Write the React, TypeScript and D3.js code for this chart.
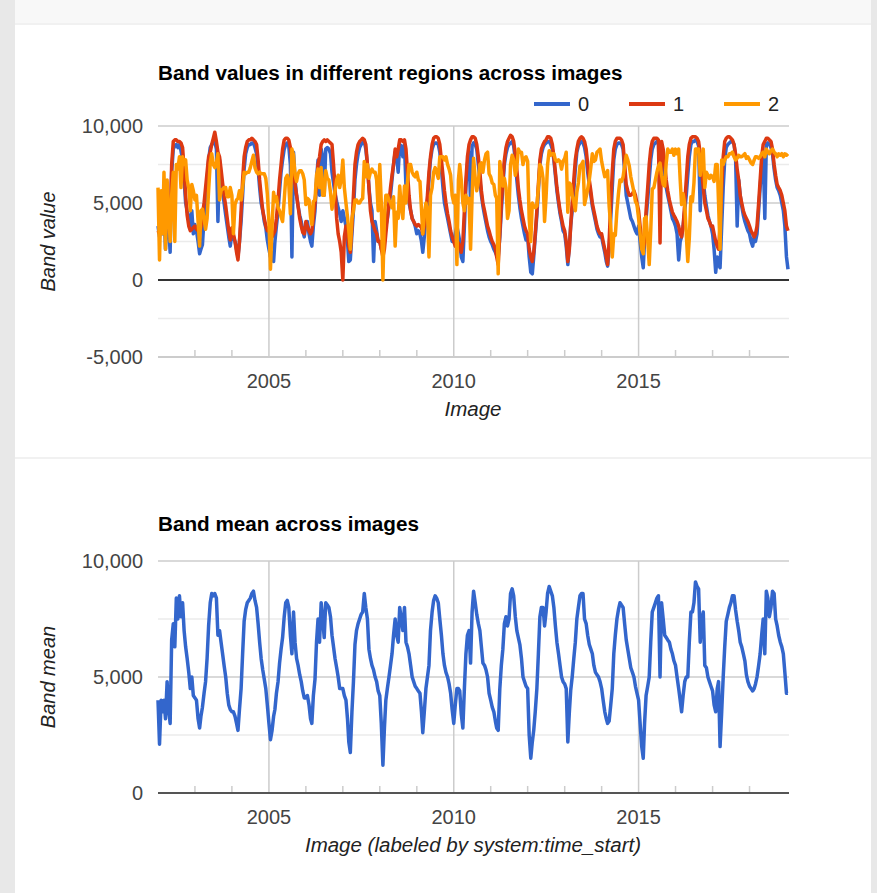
import * as d3 from "d3";
import { useEffect, useRef } from "react";

// half-monthly samples, 2002-01-01 .. 2019-01-16 (24 per year)
const startYear = 2002;

const band0 = [
  3500, 2800, 4000, 3000, 4500, 2000, 5000, 3500, 1800, 7000, 8500, 8700, 8800, 8600, 8800, 8400, 7800, 6500, 5000, 4500, 4000, 3500, 4500, 3000,
  3600, 3200, 2500, 1700, 2000, 2300, 4000, 5200, 6500, 7800, 8600, 8800, 8900, 9000, 8500, 3800, 7800, 6500, 5800, 5000, 4200, 3500, 2800, 2200,
  3000, 2800, 2500, 2000, 1500, 2500, 3800, 5500, 7200, 8200, 8600, 8800, 8800, 8900, 8900, 8600, 8200, 7200, 6000, 5000, 4500, 3800, 3400, 2600,
  2000, 1500, 1800, 1200, 2500, 3500, 4500, 5800, 7000, 7800, 8500, 8800, 8900, 8700, 7500, 1500, 8300, 6500, 5500, 4800, 4200, 3800, 3200, 2800,
  3600, 3800, 3000, 2500, 2200, 3500, 4500, 6500, 7800, 5500, 8500, 8000, 5500, 8500, 8600, 8500, 8200, 7000, 6300, 5600, 5100, 4700, 4300, 3800,
  4500, 4000, 3500, 2500, 1200, 1300, 3000, 4500, 6500, 7500, 8200, 8600, 8800, 8900, 9000, 8500, 7500, 6000, 5000, 4500, 1200, 3800, 3200, 2500,
  2500, 2000, 2000, 2500, 3500, 4000, 4800, 5500, 6500, 7500, 8300, 8000, 7000, 8800, 8700, 8000, 8800, 6000, 5500, 5000, 4500, 4000, 3800, 3500,
  3000, 3200, 3000, 2500, 1800, 2800, 4000, 5000, 6500, 7800, 8500, 8800, 8900, 8900, 8800, 8300, 7200, 6000, 5000, 4500, 4000, 3500, 3000, 2500,
  2500, 3000, 3500, 3000, 2500, 1500, 1200, 3500, 6000, 7500, 8300, 5000, 8700, 8900, 8800, 8500, 7500, 6500, 5500, 4800, 4200, 3700, 3200, 2800,
  2500, 2300, 2000, 1800, 1600, 1500, 2800, 4500, 6000, 7500, 8200, 8600, 8800, 8900, 9000, 8700, 7800, 6500, 5500, 4700, 4000, 3500, 3000, 2600,
  2800, 1500, 500, 400, 1500, 2800, 4200, 5800, 7500, 8200, 8600, 8800, 8900, 9000, 9000, 8800, 8500, 7800, 6800, 5800, 5000, 4300, 3800, 3200,
  3000, 2200, 1000, 2200, 3500, 4500, 5800, 7200, 8300, 8700, 8900, 9000, 8900, 8600, 8000, 7000, 6200, 5500, 4800, 4300, 3800, 3300, 3000, 2800,
  2800, 2300, 1800, 1200, 900, 2000, 4000, 6000, 7800, 8500, 8800, 8900, 8900, 8800, 8500, 7000, 5500, 5000, 4500, 4000, 3800, 3500, 3200, 3000,
  3500, 2500, 1500, 800, 2500, 4000, 5200, 6500, 7800, 8500, 8800, 8900, 9000, 9000, 5000, 8800, 7800, 6800, 6000, 5500, 5000, 4500, 4000, 3800,
  3500, 3000, 1300, 2500, 2800, 3500, 4500, 5500, 6800, 8000, 8800, 9000, 9000, 9100, 9000, 8700, 4500, 7500, 6500, 5500, 4800, 4200, 3800, 3500,
  3000, 2000, 500, 1500, 1000, 800, 3500, 6000, 7800, 8600, 8800, 8900, 9000, 9000, 8800, 8000, 3500, 6500, 5500, 4800, 4200, 3800, 3500, 3200,
  3000, 2500, 2200, 2800, 2500, 3000, 4500, 6000, 7500, 8300, 4000, 8800, 8900, 8800, 8600, 8200, 7200, 6500, 6000, 5800, 5500, 5000, 4500, 3500,
  1500, 700,
];

const band1 = [
  3200, 3000, 3800, 3500, 4200, 3000, 4500, 3800, 3500, 7500, 9000, 9100, 9100, 9000, 9000, 8900, 8600, 7200, 5500, 4200, 3500, 3200, 3300, 3400,
  3500, 3300, 3200, 3000, 3400, 4200, 5000, 6000, 7000, 8000, 8300, 8800, 9200, 9600, 9000, 8300, 8000, 7200, 6300, 5500, 4800, 4000, 3200, 2600,
  3400, 3000, 2500, 1800, 1300, 2500, 4500, 6500, 8000, 8600, 9000, 9100, 9100, 9200, 9100, 9000, 8800, 7800, 6500, 5500, 4500, 4000, 3500, 3200,
  3200, 3000, 2800, 3000, 3200, 4000, 5200, 6500, 7500, 8500, 9100, 9200, 9200, 9100, 8600, 7800, 7000, 6200, 5500, 4800, 4000, 3500, 3100, 3000,
  3800, 3500, 3200, 3000, 3200, 4000, 5000, 6200, 7500, 8000, 8800, 9000, 9100, 9000, 9100, 9000, 8900, 8800, 7500, 6000, 4000, 3000, 2500, 1800,
  0, 2800, 3500, 3000, 2200, 1800, 3500, 5500, 7500, 8300, 8800, 9000, 9100, 9200, 9100, 8800, 7500, 6000, 4500, 3800, 3500, 3200, 3000, 2500,
  2500, 2000, 1500, 2000, 3000, 4000, 5000, 6000, 6800, 7500, 8500, 8000, 8500, 9100, 9100, 9000, 9100, 8500, 7000, 5500, 4500, 4000, 3800, 3600,
  3500, 3600, 3500, 3400, 3000, 3500, 4500, 5500, 7000, 8000, 8800, 9200, 9300, 9300, 9200, 8800, 7800, 6800, 5800, 5000, 4300, 3800, 3200, 2800,
  2500, 2200, 2500, 2400, 2200, 1800, 2500, 4500, 6500, 8000, 8800, 9100, 9300, 9300, 9200, 8800, 8000, 7000, 5800, 5000, 4500, 4000, 3500, 3200,
  2800, 2500, 2300, 2000, 1500, 1000, 3000, 5000, 6500, 7800, 8600, 9000, 9200, 9400, 9300, 9000, 8200, 7200, 6000, 5200, 4500, 4000, 3500, 3200,
  3000, 2000, 1500, 1200, 1800, 3000, 4500, 6200, 7800, 8500, 8800, 9000, 9100, 9300, 9300, 9200, 8800, 8000, 7000, 6000, 5200, 4500, 4000, 3500,
  3200, 2500, 1200, 2000, 3500, 5000, 6500, 7800, 8500, 9000, 9200, 9300, 9200, 9000, 8500, 7500, 6500, 5800, 5000, 4500, 4000, 3500, 3200, 3000,
  3000, 2500, 2000, 1500, 1000, 2500, 5000, 7000, 8500, 9000, 9200, 9200, 9200, 9100, 8800, 7500, 6200, 5800, 5500, 5500, 5600, 5800, 5500, 5000,
  4500, 3500, 2500, 2000, 2500, 4500, 6000, 7500, 8500, 9000, 9200, 9200, 9200, 9100, 2400, 9000, 8500, 7500, 6500, 5800, 5200, 4800, 4400, 4200,
  4000, 3800, 3500, 3000, 2800, 3500, 5000, 6500, 8000, 8800, 9200, 9300, 9300, 9300, 9200, 9000, 8200, 7000, 6000, 5000, 4500, 4000, 3800, 3500,
  3500, 3000, 2500, 2200, 2000, 3500, 6000, 8000, 9000, 9200, 9300, 9300, 9200, 9100, 8800, 8200, 7200, 6500, 5500, 5000, 4500, 4200, 4000, 3800,
  3500, 3200, 3000, 2800, 3000, 3500, 5000, 6500, 8000, 8800, 9000, 9200, 9200, 9100, 9000, 8500, 7500, 6800, 6200, 6000, 5800, 5500, 5000, 4500,
  3500, 3200,
];

const band2 = [
  6000, 1300, 5800, 3000, 7000, 2000, 6500, 4500, 2500, 5500, 7000, 2500, 7500, 7200, 8000, 6000, 8000, 7500, 7800, 6500, 6000, 4500, 6200, 5800,
  5200, 5500, 3800, 2200, 4500, 4600, 4000, 3300, 4000, 5800, 7600, 8200, 7500, 7300, 7600, 8200, 5200, 5800, 5900, 6000, 6000, 5400, 5400, 6000,
  5500, 3000, 4900, 5200, 5300, 5800, 5200, 6000, 7000, 6900, 7000, 7000, 7300, 7700, 8100, 7300, 7000, 6900, 7000, 6900, 6900, 6900, 6600, 5600,
  3800, 700, 3500, 5700, 5100, 5400, 4700, 4500, 4100, 3800, 5200, 6600, 6800, 6200, 4300, 8500, 8100, 6800, 6400, 6900, 7100, 7100, 6900, 6500,
  4900, 5300, 5200, 4100, 3600, 5100, 5200, 6800, 7200, 6000, 7300, 5500, 5500, 7100, 6600, 6500, 5700, 4600, 5100, 5800, 6500, 6800, 6000, 6500,
  7800, 6000, 5000, 4100, 3200, 2000, 4000, 4500, 5200, 5200, 5000, 5000, 5200, 5300, 7700, 6700, 7500, 6600, 7000, 7200, 7000, 7000, 6500, 4500,
  7500, 5000, 0, 4000, 5500, 5500, 5200, 5000, 4700, 5400, 2200, 4400, 4000, 6100, 4700, 4000, 6100, 5000, 6400, 7500, 7500, 7000, 6800, 6700,
  7000, 6500, 6400, 4600, 3000, 4200, 5000, 4500, 1500, 5500, 6000, 7000, 7300, 7000, 6600, 8000, 8000, 8000, 7800, 8000, 7500, 7200, 6800, 5500,
  5000, 5500, 1000, 6500, 7500, 6500, 5000, 4500, 5500, 5000, 5300, 2000, 5400, 7900, 6600, 5800, 6400, 7500, 7600, 7000, 7800, 8200, 8300, 6900,
  6700, 6300, 6200, 5500, 5300, 400, 7700, 7000, 6100, 6600, 6000, 4000, 4500, 7500, 8100, 7800, 6800, 7300, 8500, 8300, 8300, 7500, 7900, 8000,
  7700, 4000, 2500, 5000, 4800, 4700, 4800, 6000, 7500, 7300, 6600, 3800, 5400, 7500, 8400, 8100, 8200, 8200, 7800, 7700, 7800, 7700, 7200, 7700,
  7900, 8300, 4400, 6300, 6200, 5500, 5100, 4500, 5700, 6300, 7400, 7500, 7700, 4900, 5400, 5900, 6500, 7300, 8200, 7700, 7800, 8300, 8400, 8500,
  7700, 7200, 6700, 6900, 7100, 4800, 3500, 1500, 3000, 2900, 4500, 5600, 6500, 6400, 6700, 7400, 8100, 7800, 7400, 6700, 6200, 5700, 5100, 4900,
  4000, 3000, 2000, 1700, 4000, 4100, 2600, 1000, 3200, 5900, 6000, 6500, 7000, 7400, 7600, 6800, 6200, 6100, 7600, 8500, 8300, 8300, 8500, 8100,
  8500, 8200, 8500, 6500, 4900, 5600, 4900, 3000, 1200, 2700, 5400, 5100, 6300, 8500, 8500, 8500, 6800, 8000, 8500, 6000, 7000, 6800, 6600, 6800,
  6700, 6400, 7500, 7500, 5000, 2000, 7800, 7500, 7800, 8000, 8000, 8200, 8200, 8300, 8000, 7800, 7900, 8100, 8000, 8000, 8100, 8200, 7900, 8000,
  7800, 7600, 7500, 7800, 8000, 8000, 7900, 8000, 8200, 8300, 8000, 8500, 8300, 8200, 8400, 8500, 8300, 8200, 8000, 8200, 8100, 8200, 8000, 8200,
  8100, 8200,
];

const bandMean = [
  4000, 2100, 4000, 3500, 4000, 3200, 4800, 3600, 3000, 6600, 7300, 6300, 8400, 7500, 8500, 7600, 8200, 7000, 6300, 5800, 5200, 4500, 5000, 4200,
  4100, 4000, 3200, 2800, 3300, 3700, 4300, 4800, 5800, 7200, 8200, 8600, 8500, 8600, 8400, 6800, 7000, 6500, 6000, 5500, 5000, 4300, 3800, 3600,
  3500, 3500, 3300, 3000, 2700, 3600, 4500, 6000, 7400, 7900, 8200, 8300, 8400, 8600, 8700, 8300, 8000, 7300, 6500, 5800, 5300, 4900, 4500, 3800,
  3000, 2300, 2700, 3300, 3600, 4300, 4800, 5600, 6200, 6700, 7600, 8200, 8300, 8000, 6800, 6000, 7800, 6500, 5800, 5500, 5100, 4800, 4400, 4100,
  4100, 4200, 3800, 3200, 3000, 4200, 4900, 6500, 7500, 6500, 8200, 7500, 6700, 8200, 8100, 8000, 7600, 6800, 6300, 5800, 5400, 5000, 4500, 4500,
  4500, 4200, 4000, 3200, 2200, 1750, 3500, 4800, 6400, 7000, 7300, 7500, 7700, 7800, 8600, 8000, 7500, 6200, 5800, 5500, 5300, 5000, 4800, 4400,
  4200, 3000, 1200, 2800, 4000, 4500, 5000, 5500, 6000, 6800, 7500, 6800, 6500, 8000, 7500, 7000, 8000, 6500, 6300, 6000, 5500, 5000, 4800, 4600,
  4500, 4400, 4300, 3500, 2600, 3500, 4500, 5000, 5500, 7000, 7800, 8300, 8500, 8400, 8200, 7500, 6800, 6000, 5500, 5200, 5000, 4700, 4300, 3600,
  3000, 3800, 4500, 4500, 4400, 3400, 2800, 4500, 6000, 6800, 7000, 5600, 7800, 8700, 8200, 7700, 7300, 7000, 6300, 5600, 5500, 5300, 5000, 4300,
  4000, 3700, 3500, 3100, 2800, 2700, 4500, 5500, 6200, 7300, 7600, 7200, 7500, 8600, 8800, 8500, 7600, 7000, 6700, 6400, 5800, 5000, 4800, 4600,
  4500, 2500, 1500, 2200, 2700, 3500, 4500, 6000, 7600, 8000, 8000, 7200, 7800, 8600, 8900, 8700, 8500, 8000, 7200, 6500, 6000, 5500, 5000, 4800,
  4700, 4500, 2200, 3500, 4400, 5000, 5800, 6500, 7500, 8000, 8500, 8600, 8600, 7500, 7300, 6800, 6400, 6200, 6000, 5500, 5200, 5100, 5000, 4800,
  4500, 4000, 3500, 3200, 3000, 3100, 3800, 4500, 6000, 6800, 7500, 7900, 8200, 8100, 8000, 7300, 6600, 6200, 5800, 5400, 5200, 5000, 4600, 4300,
  4000, 3000, 2000, 1500, 3000, 4200, 4600, 5000, 6500, 7800, 8000, 8200, 8400, 8500, 5000, 8200, 7500, 6800, 6700, 6600, 6500, 6200, 6000, 5700,
  5500, 5000, 4500, 4000, 3500, 4200, 4800, 5000, 5000, 6500, 7800, 7800, 8200, 9100, 8900, 8800, 6500, 7500, 7800, 5500, 5400, 5000, 4800, 4600,
  4400, 3800, 3500, 4500, 4800, 2000, 3500, 5000, 6300, 7400, 7700, 8000, 8200, 8500, 8500, 7900, 7400, 7000, 6500, 6300, 6000, 5700, 5100, 4800,
  4600, 4500, 4400, 4500, 4700, 5000, 5500, 6000, 6800, 7500, 6000, 8700, 8400, 7600, 8000, 8700, 8600, 7500, 7200, 6800, 6500, 6300, 6000, 5200,
  4300, 4300,
];

const seriesNames = ["0", "1", "2"];
const seriesColors = ["#3366cc", "#dc3912", "#ff9900"];
const labelYears = [2005, 2010, 2015];
const tickYears = d3.range(2003, 2019);

const FONT = "Arial, 'Liberation Sans', sans-serif";
const fmt = d3.formatLocale({ decimal: ".", thousands: ",", grouping: [3], currency: ["$", ""], minus: "-" }).format(",");

function sampleDate(i: number) {
  const k = i % 24;
  return new Date(startYear + Math.floor(i / 24), Math.floor(k / 2), k % 2 ? 16 : 1);
}

const xScale = d3.scaleTime()
  .domain([new Date(2002, 0, 1), new Date(2019, 0, 26)])
  .range([158, 789]);

function drawPanel(g: any, opts: any) {
  const { y, ticks, title, titleY, xTitle, yTitle, series, colors, zeroDark } = opts;
  const [yBottom, yTop] = y.range();
  const left = xScale.range()[0], right = xScale.range()[1];

  // horizontal grid
  g.selectAll(".grid")
    .data(ticks)
    .join("line")
    .attr("x1", left).attr("x2", right)
    .attr("y1", (v: number) => y(v)).attr("y2", (v: number) => y(v))
    .attr("stroke", (v: number) => (v % 5000 === 0 ? "#cccccc" : "#ebebeb"))
    .attr("stroke-width", (v: number) => (v === y.domain()[0] ? 2 : 1.5));

  // vertical grid at labelled years
  g.selectAll(".vgrid")
    .data(labelYears)
    .join("line")
    .attr("x1", (yr: number) => xScale(new Date(yr, 0, 1)))
    .attr("x2", (yr: number) => xScale(new Date(yr, 0, 1)))
    .attr("y1", yTop).attr("y2", yBottom)
    .attr("stroke", "#cccccc").attr("stroke-width", 1.5);

  // minor year ticks
  g.selectAll(".ytick")
    .data(tickYears.filter((yr) => !labelYears.includes(yr)))
    .join("line")
    .attr("x1", (yr: number) => xScale(new Date(yr, 0, 1)))
    .attr("x2", (yr: number) => xScale(new Date(yr, 0, 1)))
    .attr("y1", yBottom - 7).attr("y2", yBottom)
    .attr("stroke", "#cccccc").attr("stroke-width", 1.5);

  // baseline
  g.append("line")
    .attr("x1", left).attr("x2", right)
    .attr("y1", y(0)).attr("y2", y(0))
    .attr("stroke", zeroDark).attr("stroke-width", 2);

  const line = d3.line<number>()
    .x((_, i) => xScale(sampleDate(i)))
    .y((v) => y(v));

  series.forEach((s: number[], i: number) => {
    g.append("path")
      .attr("d", line(s))
      .attr("fill", "none")
      .attr("stroke", colors[i])
      .attr("stroke-width", 3.5)
      .attr("stroke-linejoin", "round");
  });

  // y labels
  g.selectAll(".ylab")
    .data(ticks.filter((v: number) => v % 5000 === 0))
    .join("text")
    .attr("x", 143).attr("y", (v: number) => y(v)).attr("dy", "0.36em")
    .attr("text-anchor", "end")
    .attr("fill", "#444").style("font", `20px ${FONT}`)
    .text((v: number) => fmt(v));

  // x labels
  g.selectAll(".xlab")
    .data(labelYears)
    .join("text")
    .attr("x", (yr: number) => xScale(new Date(yr, 0, 1))).attr("y", yBottom + 31)
    .attr("text-anchor", "middle")
    .attr("fill", "#444").style("font", `20px ${FONT}`)
    .text((yr: number) => String(yr));

  g.append("text")
    .attr("x", left).attr("y", titleY)
    .attr("fill", "#000").style("font", `bold 20.7px ${FONT}`)
    .text(title);

  g.append("text")
    .attr("x", 473).attr("y", yBottom + 59)
    .attr("text-anchor", "middle")
    .attr("fill", "#222").style("font", `italic 20.5px ${FONT}`)
    .text(xTitle);

  const midY = (yTop + yBottom) / 2;
  g.append("text")
    .attr("transform", `translate(55,${midY}) rotate(-90)`)
    .attr("text-anchor", "middle")
    .attr("fill", "#222").style("font", `italic 20px ${FONT}`)
    .text(yTitle);
}

export default function App() {
  const svgRef = useRef<SVGSVGElement>(null);

  useEffect(() => {
    const svg = d3.select(svgRef.current);
    svg.selectAll("*").remove();

    // page / card background
    svg.append("rect").attr("width", 877).attr("height", 893).attr("fill", "#e8e8e8");
    svg.append("rect").attr("x", 15).attr("width", 856).attr("height", 893).attr("fill", "#ffffff");
    svg.append("rect").attr("x", 15).attr("width", 856).attr("height", 23).attr("fill", "#f8f8f8");
    svg.append("line").attr("x1", 15).attr("x2", 871).attr("y1", 24).attr("y2", 24).attr("stroke", "#ececec").attr("stroke-width", 1.5);
    svg.append("line").attr("x1", 15).attr("x2", 871).attr("y1", 458).attr("y2", 458).attr("stroke", "#ececec").attr("stroke-width", 1.5);

    const top = svg.append("g");
    drawPanel(top, {
      y: d3.scaleLinear().domain([-5000, 10000]).range([357, 126]),
      ticks: d3.range(-5000, 10001, 2500),
      title: "Band values in different regions across images",
      titleY: 80,
      xTitle: "Image",
      yTitle: "Band value",
      series: [band0, band1, band2],
      colors: seriesColors,
      zeroDark: "#333333",
    });

    // legend
    const legendX = [534, 629, 724];
    const legend = top.selectAll(".legend")
      .data(seriesNames)
      .join("g")
      .attr("transform", (_, i) => `translate(${legendX[i]},104)`);
    legend.append("line")
      .attr("x1", 0).attr("x2", 36)
      .attr("stroke", (_, i) => seriesColors[i]).attr("stroke-width", 4);
    legend.append("text")
      .attr("x", 44).attr("dy", "0.36em")
      .attr("fill", "#222").style("font", `20px ${FONT}`)
      .text((d) => d);

    const bottom = svg.append("g");
    drawPanel(bottom, {
      y: d3.scaleLinear().domain([0, 10000]).range([793, 561]),
      ticks: d3.range(0, 10001, 2500),
      title: "Band mean across images",
      titleY: 531,
      xTitle: "Image (labeled by system:time_start)",
      yTitle: "Band mean",
      series: [bandMean],
      colors: ["#3366cc"],
      zeroDark: "#555555",
    });
  }, []);

  return (
    <svg ref={svgRef} width={877} height={893} style={{ position: "absolute", left: 0, top: 0 }} />
  );
}
